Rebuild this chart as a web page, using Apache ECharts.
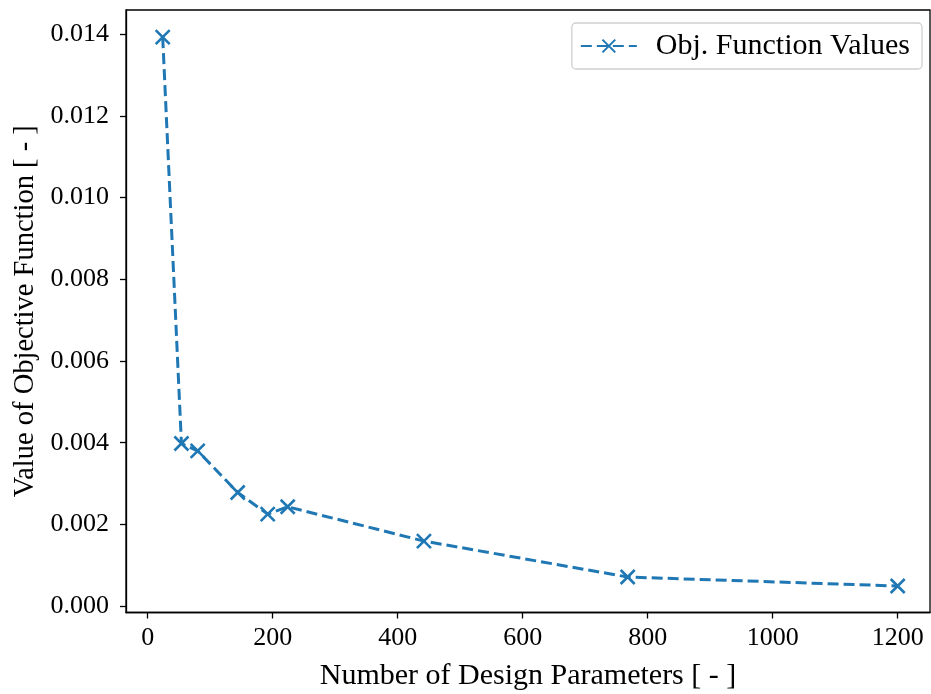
<!DOCTYPE html>
<html>
<head>
<meta charset="utf-8">
<script src="https://cdn.jsdelivr.net/npm/echarts@6/dist/echarts.min.js"></script>
<style>
  html, body { margin: 0; padding: 0; background: #fff; }
  #chart { width: 931px; height: 694px; }
</style>
</head>
<body>
<div id="chart"></div>
<script>
// Number of design parameters vs. objective function value
const designParams = [24, 54, 80, 144, 192, 224, 442, 768, 1200];
const objValues = [0.01393, 0.00398, 0.0038, 0.00278, 0.00225, 0.00243, 0.00159, 0.00071, 0.00049];
const xTicks = [0, 200, 400, 600, 800, 1000, 1200];
const yTicks = [0, 0.002, 0.004, 0.006, 0.008, 0.010, 0.012, 0.014];

const seriesName = 'Obj. Function Values';
const FONT = 'Liberation Serif';
const BLUE = '#1f77b4';

const chart = echarts.init(document.getElementById('chart'), null, { renderer: 'canvas' });

chart.setOption({
  animation: false,
  backgroundColor: '#ffffff',
  textStyle: { fontFamily: FONT, color: '#000' },
  grid: {
    left: 126, right: 1, top: 10, bottom: 81.5,
    outerBoundsMode: 'none',
    containLabel: false,
    show: true, borderColor: '#000', borderWidth: 1.3, backgroundColor: 'transparent'
  },
  legend: {
    right: 9, top: 23,
    padding: [8, 12, 8, 8],
    itemWidth: 56, itemHeight: 16, itemGap: 10,
    borderColor: '#d0d0d0', borderWidth: 1.3, borderRadius: 4,
    backgroundColor: 'rgba(255,255,255,0.8)',
    textStyle: { fontFamily: FONT, fontSize: 30, color: '#000', padding: [0, 0, 0, 14] },
    data: [{ name: seriesName }]
  },
  xAxis: {
    type: 'value',
    min: -34.7, max: 1251.7,
    name: 'Number of Design Parameters [ - ]',
    nameLocation: 'middle', nameGap: 49,
    nameTextStyle: { fontFamily: FONT, fontSize: 30, color: '#000' },
    axisLine: { show: true, onZero: false, lineStyle: { color: '#000', width: 1.3 } },
    axisTick: { show: true, inside: false, length: 6, customValues: xTicks, lineStyle: { color: '#000', width: 1.3 } },
    axisLabel: { customValues: xTicks, fontFamily: FONT, fontSize: 26, color: '#000', margin: 13, formatter: v => String(v) },
    splitLine: { show: false }
  },
  yAxis: {
    type: 'value',
    min: -0.000159, max: 0.014596,
    name: 'Value of Objective Function [ - ]',
    nameLocation: 'middle', nameGap: 84,
    nameTextStyle: { fontFamily: FONT, fontSize: 28.5, color: '#000' },
    axisLine: { show: true, onZero: false, lineStyle: { color: '#000', width: 1.3 } },
    axisTick: { show: true, inside: false, length: 6, customValues: yTicks, lineStyle: { color: '#000', width: 1.3 } },
    axisLabel: { customValues: yTicks, fontFamily: FONT, fontSize: 26, color: '#000', margin: 17, formatter: v => v.toFixed(3) },
    splitLine: { show: false }
  },
  series: [{
    name: seriesName,
    type: 'line',
    data: designParams.map((x, i) => [x, objValues[i]]),
    symbol: 'path://M0,0L10,10M10,0L0,10',
    symbolSize: 14,
    showSymbol: true,
    lineStyle: { color: BLUE, width: 3, type: [11, 5] },
    itemStyle: { color: 'transparent', borderColor: BLUE, borderWidth: 2.6 },
    emphasis: { disabled: true },
    z: 3
  }]
});
</script>
</body>
</html>
